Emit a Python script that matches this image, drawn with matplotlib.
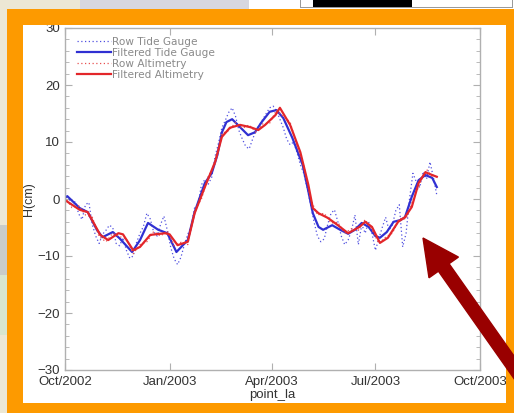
import numpy as np
import matplotlib
matplotlib.use("Agg")
import matplotlib.pyplot as plt
import matplotlib.dates as mdates
from matplotlib.patches import Rectangle, FancyArrow
from matplotlib.transforms import IdentityTransform

W, H = 514, 413
start = np.datetime64('2002-10-01')

# filtered tide gauge (day offset from 1 Oct 2002, cm)
tg_filt_days = [0, 2, 13, 20, 28, 33, 42, 48, 59, 66, 73, 82, 90, 98, 108, 114,
                123, 129, 134, 138, 142, 147, 152, 161, 167, 173, 180, 186, 192,
                200, 209, 214, 218, 223, 227, 235, 242, 249, 255, 261, 267, 273,
                277, 283, 289, 295, 299, 305, 311, 317, 323, 327]
tg_filt = [0.2, 0.5, -1.6, -2.3, -5.4, -6.7, -5.8, -6.9, -9.3, -7.2, -4.2, -5.4,
           -6.0, -9.3, -7.2, -2.3, 2.8, 4.5, 7.7, 11.7, 13.5, 14.0, 13.0, 11.2,
           11.7, 13.5, 15.3, 15.6, 14.2, 10.7, 6.0, 1.4, -2.5, -4.9, -5.4, -4.6,
           -5.4, -6.1, -5.4, -4.2, -4.9, -6.5, -6.8, -5.8, -4.0, -3.7, -3.2, 0.4,
           3.3, 4.2, 3.7, 2.1]

# filtered altimetry
alt_filt_days = [0, 13, 20, 31, 38, 47, 51, 60, 66, 75, 88, 92, 99, 108, 114,
                 123, 132, 138, 145, 154, 163, 170, 176, 185, 189, 198, 207, 214,
                 218, 223, 231, 240, 249, 259, 264, 270, 277, 284, 293, 299, 305,
                 311, 317, 323, 327]
alt_filt = [-0.2, -1.9, -2.3, -6.3, -7.2, -6.0, -6.2, -9.0, -8.4, -6.3, -6.0,
            -6.2, -8.1, -7.5, -2.5, 2.1, 6.5, 10.9, 12.5, 13.0, 12.6, 12.1, 13.0,
            14.7, 16.0, 13.0, 8.2, 2.5, -1.6, -2.5, -3.3, -4.6, -6.0, -4.9, -4.0,
            -4.9, -7.7, -6.8, -4.0, -3.2, -1.4, 2.8, 4.7, 4.2, 3.9]

# raw tide gauge, every 3 days
tg_raw_days = list(range(0, 328, 3))
tg_raw = [1.0, 0.3, -1.2, -0.4, -2.6, -3.6, -1.0, -0.6, -4.5, -6.5, -7.8, -6.2,
          -5.5, -4.6, -5.0, -7.8, -8.2, -6.8, -9.0, -10.4, -10.0, -7.6, -6.0,
          -4.8, -2.5, -3.5, -5.8, -6.5, -4.5, -3.0, -5.5, -8.5, -10.5, -11.5,
          -10.2, -8.0, -6.2, -4.8, -1.5, -1.0, 2.5, 3.4, 2.6, 3.8, 7.5, 9.8,
          12.5, 13.8, 15.2, 16.0, 14.5, 12.0, 10.5, 9.2, 8.8, 10.5, 12.0, 13.0,
          14.0, 15.0, 16.0, 16.3, 15.5, 14.0, 12.5, 10.5, 9.5, 10.0, 8.2, 6.0,
          4.5, 2.0, -1.0, -4.0, -6.5, -7.5, -7.0, -4.5, -2.5, -1.9, -4.0, -6.5,
          -8.0, -7.2, -5.5, -2.8, -8.0, -4.5, -6.0, -4.0, -6.0, -9.0, -7.0, -5.0,
          -3.2, -5.5, -4.5, -2.0, -1.0, -8.4, -6.0, 0.0, 4.5, 3.0, 2.0, 4.8,
          3.5, 6.5, 3.8, 0.7]

# raw altimetry, every 6 days
alt_raw_days = list(range(0, 325, 6))
alt_raw = [0.3, -1.5, -1.2, -2.8, -3.2, -6.6, -7.5, -6.0, -6.6, -7.0, -9.6, -8.0,
           -7.5, -5.7, -6.5, -5.6, -8.2, -7.6, -8.0, -2.0, 0.0, 4.0, 6.0, 11.5,
           12.0, 13.4, 12.4, 13.0, 11.7, 13.2, 13.3, 15.6, 14.5, 13.5, 9.3, 5.9,
           0.0, -2.8, -2.5, -4.2, -4.1, -6.0, -5.2, -5.5, -3.6, -5.4, -7.8, -6.7,
           -6.0, -3.4, -3.5, -0.2, 2.6, 5.2, 3.6]

labels = ['Row Tide Gauge', 'Filtered Tide Gauge', 'Row Altimetry', 'Filtered Altimetry']
tick_dates = ['2002-10-01', '2003-01-01', '2003-04-01', '2003-07-01', '2003-10-01']


def to_dates(days):
    return start + np.array(days).astype('timedelta64[D]')


def px_rect(x0, y0, x1, y1, color, z=-5):
    # rectangle given in image pixels (origin top-left)
    r = Rectangle((x0 / W, 1 - y1 / H), (x1 - x0) / W, (y1 - y0) / H,
                  transform=fig.transFigure, facecolor=color, edgecolor='none', zorder=z)
    fig.patches.append(r)


fig = plt.figure(figsize=(W / 100, H / 100), dpi=100)
fig.patch.set_facecolor('white')

# background of the slide
px_rect(0, 0, 80, H, '#ece7d4')
px_rect(0, 225, 8, 275, '#c9ccc9')
px_rect(0, 275, 8, 335, '#d8e6cf')
px_rect(80, 0, 249, 9, '#d7d7df')
px_rect(300, 0, 513, 8, '#9a9a9a')
px_rect(301, 0, 512, 7, 'white')
px_rect(313, 0, 412, 7, 'black')
px_rect(7, 9, W, H, 'white')

# orange frame
orange = '#fd9a00'
px_rect(7, 9, W, 25, orange, 3)
px_rect(7, 403, W, H, orange, 3)
px_rect(7, 9, 23, H, orange, 3)
px_rect(506, 9, W, H, orange, 3)

ax = fig.add_axes([65 / W, 1 - 370 / H, 415 / W, 342 / H])
ax.set_facecolor('white')

blue = '#3030d2'
red = '#e3262a'
ax.plot(to_dates(tg_raw_days), tg_raw, ls=(0, (1, 2)), lw=0.9, color='#5050e0', label=labels[0])
ax.plot(to_dates(tg_filt_days), tg_filt, lw=1.6, color=blue, label=labels[1])
ax.plot(to_dates(alt_raw_days), alt_raw, ls=(0, (1, 2)), lw=0.9, color='#e85050', label=labels[2])
ax.plot(to_dates(alt_filt_days), alt_filt, lw=1.6, color=red, label=labels[3])

ax.set_xlim(np.datetime64(tick_dates[0]), np.datetime64(tick_dates[-1]))
ax.set_ylim(-30, 30)
ax.set_xticks([np.datetime64(d) for d in tick_dates])
ax.xaxis.set_major_formatter(mdates.DateFormatter('%b/%Y'))
ax.set_yticks(np.arange(-30, 31, 10))
ax.set_yticks(np.arange(-30, 31, 2), minor=True)

spine_col = '#b0b0b0'
for s in ax.spines.values():
    s.set_color(spine_col)
    s.set_linewidth(1.0)
ax.tick_params(axis='both', which='both', direction='in', color=spine_col,
               labelcolor='#333333', labelsize=9.5)
ax.tick_params(axis='y', which='both', left=True, right=True)
ax.tick_params(axis='x', which='major', top=True, bottom=True, length=5, pad=4.5)
ax.tick_params(axis='y', which='major', length=5, pad=3.5)
ax.tick_params(axis='y', which='minor', length=3)
for lab in ax.get_xticklabels() + ax.get_yticklabels():
    lab.set_family('Liberation Sans')

ax.set_xlabel('point_la', fontsize=9.5, family='Liberation Sans', color='#333333', labelpad=0.5)
ax.set_ylabel('H(cm)', fontsize=9, family='Liberation Sans', color='#333333', labelpad=2)

leg = ax.legend(loc='upper left', bbox_to_anchor=(0.029, 0.975), frameon=False,
                fontsize=7.6, handlelength=3.2, handletextpad=0.15, labelspacing=0.1,
                borderpad=0, borderaxespad=0)
for t in leg.get_texts():
    t.set_color('#8a8a8a')

# pointer arrow
arrow = FancyArrow(530, H - 390, 423 - 530, 390 - 238, width=13, head_width=36,
                   head_length=36, length_includes_head=True, color='#990000',
                   transform=IdentityTransform(), zorder=10)
fig.patches.append(arrow)

fig.savefig('out.png', dpi=100)
